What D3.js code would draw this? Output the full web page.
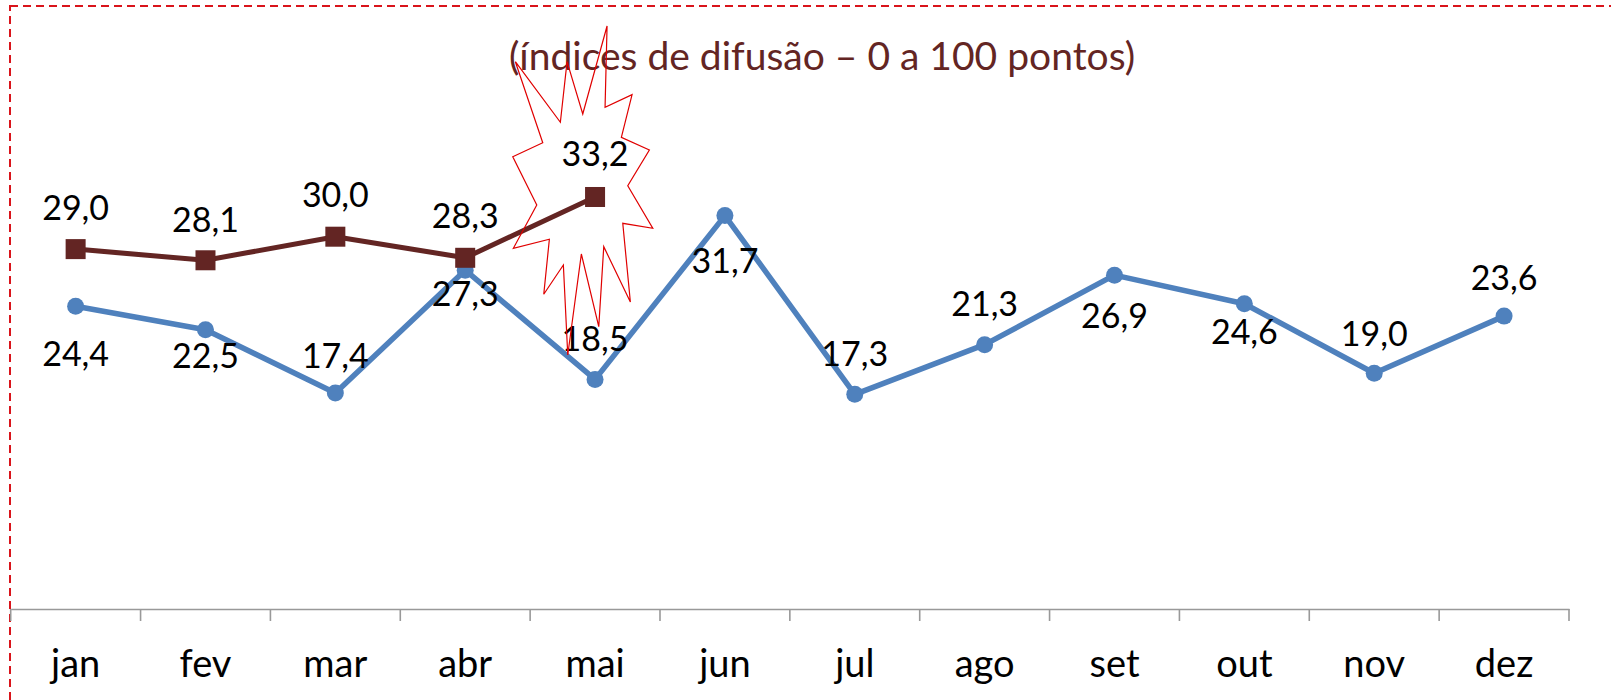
<!DOCTYPE html>
<html>
<head>
<meta charset="utf-8">
<script src="https://cdn.jsdelivr.net/npm/d3@7"></script>
<style>
  html, body { margin: 0; padding: 0; background: #fff; }
  svg { display: block; }
  text { font-family: Lato, "Open Sans", sans-serif; }
</style>
</head>
<body>
<svg id="chart" width="1611" height="700"></svg>
<script>
// ---- data ----
const months = ["jan","fev","mar","abr","mai","jun","jul","ago","set","out","nov","dez"];
const seriesPrev = [24.4, 22.5, 17.4, 27.3, 18.5, 31.7, 17.3, 21.3, 26.9, 24.6, 19.0, 23.6];
const seriesCurr = [29.0, 28.1, 30.0, 28.3, 33.2];
const titleText = "(índices de difusão – 0 a 100 pontos)";

// ---- layout / style (not data) ----
// label vertical offsets (px) from each point, as placed in the reference
const prevLabelDy = [48, 26, -37, 24, -41, 45, -41, -41, 41, 28, -39, -38];
const currLabelDy = [-41, -41, -42, -42, -43];
// explosion callout outline, relative to the highlighted point
const burstShape = [
  [12,-171],[10,-89.7],[37,-102.3],[26.3,-59.7],[54.3,-47],[32.7,-11.3],
  [57.7,31.3],[27.7,26.3],[35.3,105],[8.7,49.7],[3.7,129.7],[-13.7,57],
  [-27.3,158],[-31.7,68],[-51.3,97.3],[-45.7,42.3],[-81.7,51.3],[-58.3,8],
  [-82.3,-40.3],[-52.3,-54.3],[-79.7,-135.3],[-34.7,-74.7],[-28,-135.3],[-12.3,-83]
];

const svg = d3.select("#chart");

const x = d3.scaleBand().domain(months).range([10.7, 1569]).padding(0);
const y = d3.scaleLinear().domain([0, 40]).range([609, 112.6]);
const cx = m => x(m) + x.bandwidth() / 2;

// dashed border
svg.append("rect")
  .attr("x", 10).attr("y", 6).attr("width", 1800).attr("height", 900)
  .attr("fill", "none").attr("stroke", "#D9141B").attr("stroke-width", 2)
  .attr("stroke-dasharray", "8,5");

// title
svg.append("text")
  .attr("x", 822).attr("y", 70)
  .attr("text-anchor", "middle")
  .attr("fill", "#632523")
  .attr("font-size", 39)
  .text(titleText);

// axis
const axisG = svg.append("g").attr("transform", "translate(0,609)");
axisG.call(d3.axisBottom(x).tickSize(0).tickPadding(0));
axisG.select(".domain").attr("stroke", "#999").attr("stroke-width", 1.6);
axisG.selectAll(".tick text")
  .attr("font-size", 38).attr("fill", "#000")
  .attr("font-family", "Lato, sans-serif")
  .attr("dy", 0).attr("y", 68);
const bounds = months.map(m => x(m)).concat([x.range()[1]]);
axisG.selectAll("line.bound").data(bounds).join("line")
  .attr("class", "bound")
  .attr("x1", d => d).attr("x2", d => d)
  .attr("y1", 0).attr("y2", 12)
  .attr("stroke", "#999").attr("stroke-width", 1.6);

// lines
const linePrev = d3.line().x((d, i) => cx(months[i])).y(d => y(d));
svg.append("path").datum(seriesPrev)
  .attr("d", linePrev).attr("fill", "none")
  .attr("stroke", "#4F81BD").attr("stroke-width", 5.5).attr("stroke-linejoin", "round");
svg.selectAll("circle.prev").data(seriesPrev).join("circle")
  .attr("class", "prev")
  .attr("cx", (d, i) => cx(months[i])).attr("cy", d => y(d))
  .attr("r", 8.5).attr("fill", "#4F81BD");

svg.append("path").datum(seriesCurr)
  .attr("d", linePrev).attr("fill", "none")
  .attr("stroke", "#632523").attr("stroke-width", 5).attr("stroke-linejoin", "round");
svg.selectAll("rect.curr").data(seriesCurr).join("rect")
  .attr("class", "curr")
  .attr("x", (d, i) => cx(months[i]) - 10).attr("y", d => y(d) - 10)
  .attr("width", 20).attr("height", 20).attr("fill", "#632523");

// labels
const fmt = v => v.toFixed(1).replace(".", ",");
const labelSize = 34;
svg.selectAll("text.lprev").data(seriesPrev).join("text")
  .attr("class", "lprev")
  .attr("x", (d, i) => cx(months[i]))
  .attr("y", (d, i) => y(d) + prevLabelDy[i] + labelSize * 0.36)
  .attr("text-anchor", "middle").attr("font-size", labelSize).attr("fill", "#000")
  .text(fmt);
svg.selectAll("text.lcurr").data(seriesCurr).join("text")
  .attr("class", "lcurr")
  .attr("x", (d, i) => cx(months[i]))
  .attr("y", (d, i) => y(d) + currLabelDy[i] + labelSize * 0.36)
  .attr("text-anchor", "middle").attr("font-size", labelSize).attr("fill", "#000")
  .text(fmt);

// explosion callout around the highlighted (latest) point
const hi = seriesCurr.length - 1;
const bx = cx(months[hi]), by = y(seriesCurr[hi]);
svg.append("path")
  .attr("d", d3.line()(burstShape.map(p => [bx + p[0], by + p[1]])) + "Z")
  .attr("fill", "none").attr("stroke", "#E00000").attr("stroke-width", 1.2)
  .attr("stroke-linejoin", "miter");
</script>
</body>
</html>
